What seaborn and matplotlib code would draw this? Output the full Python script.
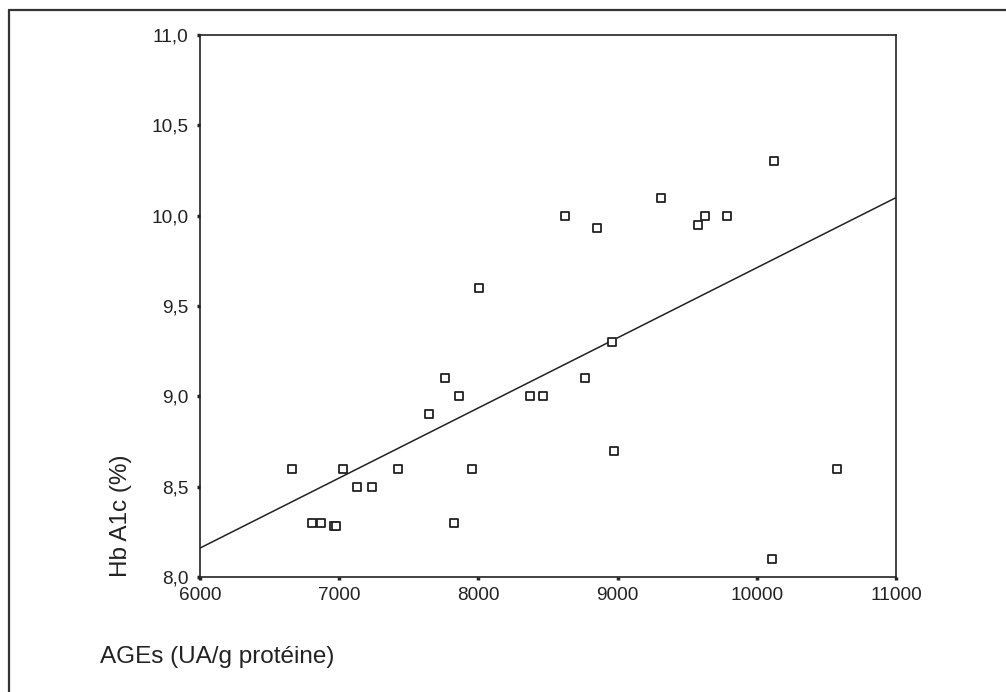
import matplotlib
matplotlib.use("Agg")
import matplotlib.pyplot as plt
from matplotlib.lines import Line2D
import pandas as pd
import seaborn as sns

# values
AGES = [6659, 6807, 6869, 6965, 6980, 7030, 7130, 7239, 7421, 7643,
        7759, 7863, 7827, 7956, 8007, 8374, 8465, 8622, 8766, 8855,
        8963, 8975, 9314, 9574, 9628, 9784, 10124, 10112, 10578]
HBA1C = [8.6, 8.3, 8.3, 8.28, 8.28, 8.6, 8.5, 8.5, 8.6, 8.9,
         9.1, 9.0, 8.3, 8.6, 9.6, 9.0, 9.0, 10.0, 9.1, 9.93,
         9.3, 8.7, 10.1, 9.95, 10.0, 10.0, 10.3, 8.1, 8.6]

# fitted line as printed in the figure (ends read at the axis limits)
FIT_AGES = [6000, 11000]
FIT_HBA1C = [8.16, 10.10]

XTICKS = [6000, 7000, 8000, 9000, 10000, 11000]
YTICKS = [8.0, 8.5, 9.0, 9.5, 10.0, 10.5, 11.0]
YTICK_LABELS = ["8,0", "8,5", "9,0", "9,5", "10,0", "10,5", "11,0"]

X_LABEL = "AGEs (UA/g protéine)"
Y_LABEL = "Hb A1c (%)"

INK = "#222222"


def main():
    sns.set_theme(style="white")
    plt.rcParams["font.family"] = ["Liberation Sans", "DejaVu Sans"]

    df = pd.DataFrame({"ages": AGES, "hba1c": HBA1C})
    fit = pd.DataFrame({"ages": FIT_AGES, "hba1c": FIT_HBA1C})

    fig = plt.figure(figsize=(10.06, 6.92), dpi=100)
    ax = fig.add_axes([0.1988, 0.1662, 0.6919, 0.7832])

    sns.lineplot(data=fit, x="ages", y="hba1c", ax=ax,
                 color=INK, linewidth=1.1, zorder=2)
    sns.scatterplot(
        data=df, x="ages", y="hba1c", ax=ax,
        marker="s", s=40, facecolor="white", edgecolor=INK, linewidth=1.3,
        zorder=3,
    )
    ax.set_xlim(XTICKS[0], XTICKS[-1])
    ax.set_ylim(YTICKS[0], YTICKS[-1])

    ax.set_xticks(XTICKS)
    ax.set_xticklabels([str(t) for t in XTICKS])
    ax.set_yticks(YTICKS)
    ax.set_yticklabels(YTICK_LABELS)
    ax.tick_params(axis="both", direction="out", length=2.5, width=2.5,
                   color=INK, labelcolor=INK, labelsize=13.7, pad=6,
                   bottom=True, left=True)
    ax.tick_params(axis="x", pad=5)

    for sp in ax.spines.values():
        sp.set_color(INK)
        sp.set_linewidth(1.2)

    ax.set_xlabel(X_LABEL, fontsize=17.5, color=INK, ha="left", va="center")
    ax.xaxis.set_label_coords(-0.144, -0.148)
    ax.set_ylabel(Y_LABEL, fontsize=17.5, color=INK, ha="left", va="center",
                  rotation_mode="anchor")
    ax.yaxis.set_label_coords(-0.1135, 0.0)

    # outer frame (left and top edges of the boxed figure)
    fig.add_artist(Line2D([9 / 1006, 1.0], [1 - 10 / 692, 1 - 10 / 692],
                          transform=fig.transFigure, color="#333333", linewidth=1.6))
    fig.add_artist(Line2D([9 / 1006, 9 / 1006], [0.0, 1 - 10 / 692],
                          transform=fig.transFigure, color="#333333", linewidth=1.6))

    fig.savefig("out.png", dpi=100, facecolor="white")
    plt.close(fig)


if __name__ == "__main__":
    main()
